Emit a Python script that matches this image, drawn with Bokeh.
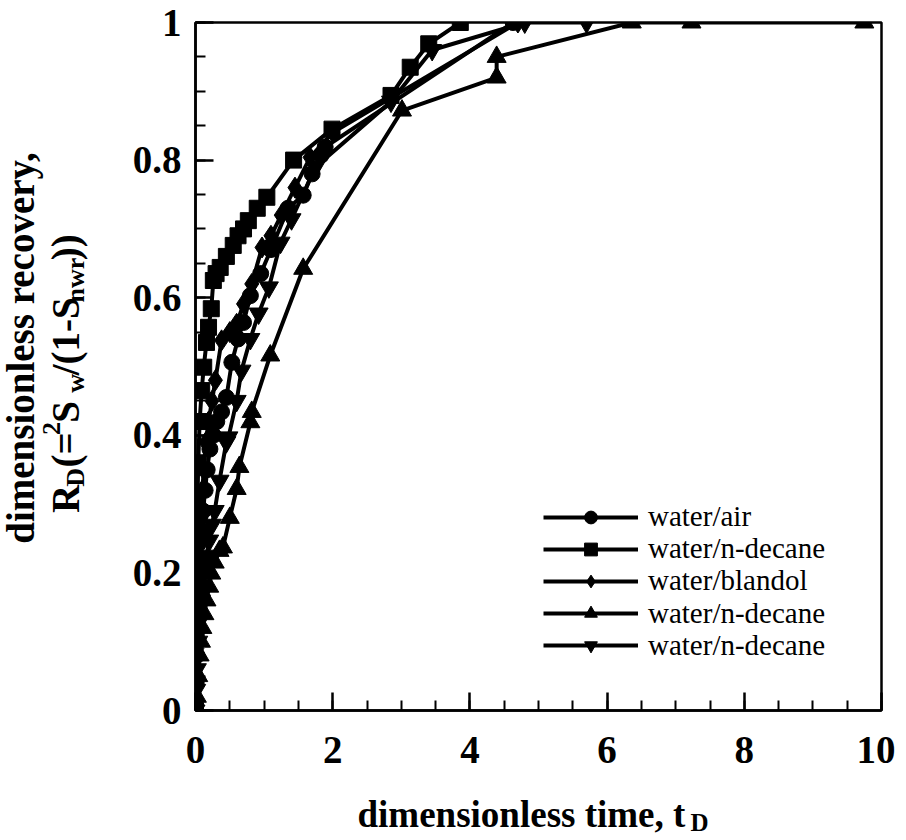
import math
from bokeh.plotting import figure
from bokeh.layouts import row, column
from bokeh.models import (Range1d, FixedTicker, CustomJSTickFormatter, Legend,
                          LegendItem)
from bokeh.core.properties import value
from bokeh.embed import file_html
from bokeh.resources import INLINE

# ---------------- data ----------------
air_t = [0, 0.01, 0.02, 0.03, 0.04, 0.05, 0.07, 0.09, 0.11, 0.14, 0.17, 0.21,
         0.26, 0.31, 0.38, 0.45, 0.53, 0.62, 0.70, 0.80, 0.95, 1.10, 1.35,
         1.57, 1.70, 1.83, 1.89, 4.63]
air_r = [0, 0.04, 0.08, 0.12, 0.15, 0.19, 0.22, 0.26, 0.29, 0.32, 0.35, 0.38,
         0.40, 0.42, 0.434, 0.455, 0.506, 0.54, 0.564, 0.603, 0.635, 0.67,
         0.73, 0.749, 0.78, 0.807, 0.819, 1.0]

dec1_t = [0, 0.01, 0.015, 0.02, 0.03, 0.04, 0.06, 0.09, 0.12, 0.16, 0.19, 0.23,
          0.26, 0.30, 0.36, 0.45, 0.55, 0.62, 0.70, 0.77, 0.90, 1.04, 1.43,
          1.99, 2.85, 3.13, 3.40, 3.86]
dec1_r = [0, 0.11, 0.20, 0.28, 0.31, 0.36, 0.42, 0.465, 0.499, 0.535, 0.557,
          0.584, 0.625, 0.635, 0.644, 0.66, 0.676, 0.69, 0.70, 0.712, 0.73,
          0.746, 0.80, 0.845, 0.894, 0.935, 0.969, 1.0]

bland_t = [0, 0.01, 0.02, 0.03, 0.04, 0.05, 0.06, 0.08, 0.10, 0.12, 0.15, 0.19,
           0.24, 0.29, 0.38, 0.50, 0.60, 0.70, 0.82, 0.97, 1.10, 1.25, 1.45,
           1.67, 2.0, 4.7]
bland_r = [0, 0.05, 0.09, 0.13, 0.17, 0.21, 0.24, 0.28, 0.32, 0.35, 0.39, 0.42,
           0.45, 0.48, 0.538, 0.55, 0.562, 0.591, 0.62, 0.673, 0.69, 0.72, 0.76,
           0.804, 0.84, 1.0]

dec2_t = [0, 0.02, 0.04, 0.06, 0.08, 0.10, 0.13, 0.16, 0.20, 0.23, 0.28, 0.35,
          0.40, 0.50, 0.60, 0.64, 0.80, 0.82, 1.09, 1.57, 3.01, 4.39, 4.39,
          6.36, 7.23, 9.75]
dec2_r = [0, 0.02, 0.05, 0.08, 0.10, 0.12, 0.14, 0.16, 0.18, 0.199, 0.215,
          0.232, 0.237, 0.28, 0.322, 0.354, 0.419, 0.434, 0.516, 0.642, 0.872,
          0.92, 0.95, 1.0, 1.0, 1.0]

dec3_t = [0, 0.01, 0.02, 0.04, 0.06, 0.08, 0.10, 0.13, 0.16, 0.20, 0.24, 0.28,
          0.35, 0.45, 0.48, 0.60, 0.67, 0.80, 0.92, 1.07, 1.24, 1.40, 1.75,
          2.85, 3.45, 4.80, 5.70]
dec3_r = [0, 0.03, 0.06, 0.10, 0.13, 0.16, 0.18, 0.208, 0.225, 0.247, 0.27,
          0.29, 0.334, 0.39, 0.397, 0.45, 0.494, 0.54, 0.577, 0.615, 0.68,
          0.714, 0.79, 0.885, 0.96, 1.0, 1.0]

series_labels = ["water/air", "water/n-decane", "water/blandol",
                 "water/n-decane", "water/n-decane"]
x_ticks = [0, 2, 4, 6, 8, 10]
y_ticks = [0, 0.2, 0.4, 0.6, 0.8, 1.0]

FONT = "Liberation Serif"

# ---------------- geometry ----------------
YW = 100          # width of the y-title strip
MAIN_H = 784      # height of main plot
XH = 54           # height of x-title strip
TOTAL_W = 895

# ---------------- main figure ----------------
p = figure(width=TOTAL_W - YW, height=MAIN_H, output_backend="svg",
           toolbar_location=None,
           x_range=Range1d(0, 10), y_range=Range1d(0, 1),
           min_border_left=195 - YW, min_border_right=14, min_border_top=22,
           min_border_bottom=MAIN_H - 710)
p.grid.visible = False
p.background_fill_color = "white"
p.border_fill_color = "white"
p.outline_line_color = "black"
p.outline_line_width = 2.5
p.outline_line_alpha = 1.0

p.xaxis.ticker = FixedTicker(ticks=x_ticks,
                             minor_ticks=[i * 0.5 for i in range(21)])
p.yaxis.ticker = FixedTicker(ticks=y_ticks,
                             minor_ticks=[i * 0.05 for i in range(21)])
fmt = CustomJSTickFormatter(code="return String(Math.round(tick*100)/100);")
p.xaxis.formatter = fmt
p.yaxis.formatter = fmt
for ax in (p.xaxis, p.yaxis):
    ax.axis_line_width = 2.5
    ax.axis_line_color = "black"
    ax.major_tick_line_width = 2.5
    ax.minor_tick_line_width = 2
    ax.major_tick_line_color = "black"
    ax.minor_tick_line_color = "black"
    ax.major_tick_in = 18
    ax.major_tick_out = 0
    ax.minor_tick_in = 10
    ax.minor_tick_out = 0
    ax.major_label_text_font = FONT
    ax.major_label_text_font_style = "bold"
    ax.major_label_text_font_size = "39px"
    ax.major_label_text_color = "black"
p.xaxis.major_label_standoff = 26
p.yaxis.major_label_standoff = 14

specs = [
    (air_t, air_r, "circle", 16),
    (dec1_t, dec1_r, "square", 16),
    (bland_t, bland_r, "diamond", 21),
    (dec2_t, dec2_r, "triangle", 19),
    (dec3_t, dec3_r, "inverted_triangle", 19),
]
items = []
for (t, r, mk, sz), lab in zip(specs, series_labels):
    lr = p.line(t, r, line_color="black", line_width=4)
    sr = p.scatter(t, r, marker=mk, size=sz, fill_color="black",
                   line_color="black")
    items.append(LegendItem(label=lab, renderers=[lr, sr]))

# one single-row legend per entry, so the row pitch can be set freely
ROW_H = 32
row_centres = [517, 549.2, 581.4, 613.6, 645.8]   # page y of each legend row
for item, cy in zip(items, row_centres):
    lg = Legend(items=[item], location=(348, 710 - cy - ROW_H / 2),
                padding=0, margin=0, spacing=0, glyph_width=95,
                glyph_height=ROW_H, label_height=ROW_H, label_standoff=10,
                border_line_alpha=0, background_fill_alpha=0,
                label_text_font=FONT, label_text_font_size="29px",
                label_text_color="black", label_text_baseline="middle")
    p.add_layout(lg, "center")


# ---------------- title strips (pixel-unit figures) ----------------
def strip(w, h):
    f = figure(width=w, height=h, output_backend="svg", toolbar_location=None,
               x_range=Range1d(0, w), y_range=Range1d(0, h),
               x_axis_type=None, y_axis_type=None, min_border=0)
    f.grid.visible = False
    f.outline_line_color = None
    f.background_fill_color = "white"
    f.border_fill_color = "white"
    return f


def put(f, h, s, px, py, size, angle=0.0):
    # px, py are pixel positions inside the strip, measured from its top-left
    f.text(x=[px], y=[h - py], text=[s], angle=angle,
           text_font=value(FONT), text_font_style="bold",
           text_font_size=value(size), text_color="black",
           text_align="left", text_baseline="alphabetic")


# rotated y title (empirical offsets)
yfig = strip(YW, MAIN_H)
A = math.pi / 2
RX, RY = -15, 45


def yput(s, px, py, size):
    put(yfig, MAIN_H, s, px + RX, py + RY, size, A)


yput("dimensionless recovery,", 35, 549, "39px")
yput("R", 80, 514, "39px")
yput("D", 90, 484, "26px")
yput("(=", 80, 462, "39px")
yput("2", 66, 425, "26px")
yput("S", 80, 411, "39px")
yput("w", 90, 377, "26px")
yput("/(1-S", 80, 357, "39px")
yput("nwr", 90, 274, "26px")
yput("))", 80, 226, "39px")

xfig = strip(TOTAL_W, XH)
put(xfig, XH, "dimensionless time, t", 357, 814 - MAIN_H, "37px")
put(xfig, XH, "D", 690, 822 - MAIN_H, "25px")

layout = column(row(yfig, p), xfig)
open("out.html", "w").write(file_html(layout, INLINE))
